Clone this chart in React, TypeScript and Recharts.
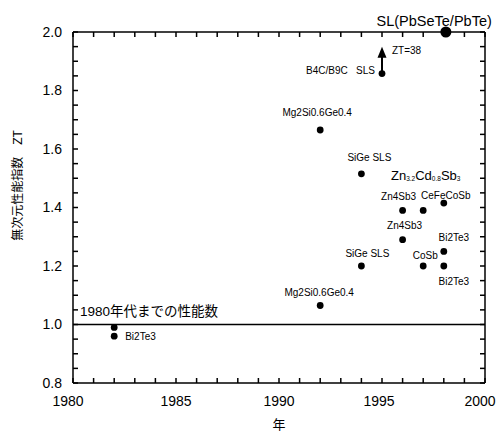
import { ReferenceLine, Scatter, ScatterChart, XAxis, YAxis } from 'recharts';

const FONT = '"Liberation Sans", Arial, "Noto Sans CJK JP", sans-serif';

// reported materials: year, ZT, label
const years = [1982, 1982, 1992, 1994, 1996, 1997, 1998, 1998, 1996, 1997, 1998, 1994, 1992, 1995];
const ztValues = [0.99, 0.96, 1.065, 1.2, 1.29, 1.2, 1.2, 1.25, 1.39, 1.39, 1.415, 1.515, 1.665, 1.858];
const names = [
  '',
  'Bi2Te3',
  'Mg2Si0.6Ge0.4',
  'SiGe SLS',
  'Zn4Sb3',
  'CoSb',
  'Bi2Te3',
  'Bi2Te3',
  'Zn4Sb3',
  'Zn_{3.2}Cd_{0.8}Sb_{3}',
  'CeFeCoSb',
  'SiGe SLS',
  'Mg2Si0.6Ge0.4',
  'B4C/B9C\u00a0\u00a0\u00a0SLS'
];

// label offset from its dot: [dx, dy, anchor, fontSize]
const labelSpots: [number, number, string, number][] = [
  [0, 0, 'middle', 10],
  [11, 0, 'start', 10],
  [-1, -13, 'middle', 10],
  [6, -13, 'middle', 10],
  [2, -14, 'middle', 10],
  [2, -11, 'middle', 10],
  [10, 15, 'middle', 10],
  [10, -14, 'middle', 10],
  [-4, -14, 'middle', 10],
  [2.5, -35, 'middle', 13],
  [2, -8, 'middle', 10],
  [8, -16, 'middle', 10],
  [-3, -17, 'middle', 10],
  [-7, -3, 'end', 10]
];

const recordYear = 1998.1;
const recordZT = 2.0;
const recordName = 'SL(PbSeTe/PbTe)';

const arrowFrom = { year: 1995, zt: 1.858 };
const arrowTo = { year: 1995, zt: 1.95 };
const arrowText = 'ZT=38';

const baselineZT = 1.0;
const baselineText = '1980年代までの性能数';

const X_MIN = 1980;
const X_MAX = 2000;
const Y_MIN = 0.8;
const Y_MAX = 2.0;
const xMajorTicks = [1980, 1985, 1990, 1995, 2000];
const yMajorTicks = [0.8, 1.0, 1.2, 1.4, 1.6, 1.8, 2.0];
const xMinorTicks = [
  1980, 1981, 1982, 1983, 1984, 1985, 1986, 1987, 1988, 1989, 1990, 1991, 1992, 1993, 1994, 1995, 1996,
  1997, 1998, 1999, 2000
];
const yMinorTicks = [
  0.8, 0.85, 0.9, 0.95, 1.0, 1.05, 1.1, 1.15, 1.2, 1.25, 1.3, 1.35, 1.4, 1.45, 1.5, 1.55, 1.6, 1.65, 1.7,
  1.75, 1.8, 1.85, 1.9, 1.95, 2.0
];
// the year labels sit a little off their ticks in the original
const xTickNudge: Record<number, number> = { 1980: -5, 1995: -3, 2000: -5 };

const points = years.map((year, i) => ({ year, zt: ztValues[i], name: names[i], idx: i }));
const record = [{ year: recordYear, zt: recordZT, name: recordName }];

// tick marks placed on the frame, drawn through the chart's scales
const tickMarks = [
  ...xMinorTicks.map((year) => ({ year, zt: Y_MIN, side: 'b' })),
  ...xMinorTicks.map((year) => ({ year, zt: Y_MAX, side: 't' })),
  ...yMinorTicks.map((zt) => ({ year: X_MIN, zt, side: 'l' })),
  ...yMinorTicks.map((zt) => ({ year: X_MAX, zt, side: 'r' }))
];

const TICK_LEN = 5;

function RichText({ text, x, y, anchor, size }: any) {
  const parts = text.split(/_\{([^}]*)\}/);
  if (parts.length === 1) {
    return (
      <text x={x} y={y} textAnchor={anchor} dominantBaseline='central' fontSize={size} fontFamily={FONT} fill='#000'>
        {text}
      </text>
    );
  }
  const sub = size / 2;
  return (
    <text x={x} y={y} textAnchor={anchor} dominantBaseline='central' fontSize={size} fontFamily={FONT} fill='#000'>
      {parts.map((p: string, i: number) =>
        i % 2 === 1 ? (
          <tspan key={i} fontSize={sub} dy={3}>
            {p}
          </tspan>
        ) : (
          <tspan key={i} dy={i === 0 ? 0 : -3}>
            {p}
          </tspan>
        )
      )}
    </text>
  );
}

function PointMark(props: any) {
  const { cx, cy, payload } = props;
  const [dx, dy, anchor, size] = labelSpots[payload.idx];
  return (
    <g>
      <circle cx={cx} cy={cy} r={3.4} fill='#000' />
      {payload.name ? <RichText text={payload.name} x={cx + dx} y={cy + dy} anchor={anchor} size={size} /> : null}
    </g>
  );
}

function RecordMark(props: any) {
  const { cx, cy, payload } = props;
  return (
    <g>
      <circle cx={cx} cy={cy} r={5.5} fill='#000' />
      <RichText text={payload.name} x={cx - 11.7} y={cy - 11} anchor='middle' size={14.5} />
    </g>
  );
}

function TickMark(props: any) {
  const { cx, cy, payload } = props;
  const side = payload && payload.side;
  let ex = cx;
  let ey = cy;
  if (side === 'b') ey = cy - TICK_LEN;
  else if (side === 't') ey = cy + TICK_LEN;
  else if (side === 'l') ex = cx + TICK_LEN;
  else ex = cx - TICK_LEN;
  return <path d={`M${cx},${cy}L${ex},${ey}`} stroke='#000' strokeWidth={1.5} fill='none' />;
}

function Arrow(props: any) {
  const { x1, y1, y2 } = props;
  const top = Math.min(y1, y2);
  const bottom = Math.max(y1, y2);
  const x = x1;
  return (
    <g>
      <line x1={x} y1={bottom} x2={x} y2={top + 8} stroke='#000' strokeWidth={2} />
      <polygon points={`${x},${top} ${x - 4.5},${top + 11} ${x + 4.5},${top + 11}`} fill='#000' />
      <text x={x + 10} y={top + 4} dominantBaseline='central' fontSize={10} fontFamily={FONT} fill='#000'>
        {arrowText}
      </text>
    </g>
  );
}

function YearTick({ x, y, payload }: any) {
  return (
    <text
      x={x + (xTickNudge[payload.value] ?? 0)}
      y={y}
      dy='0.71em'
      textAnchor='middle'
      fontSize={14}
      fontFamily={FONT}
      fill='#000'
    >
      {payload.value}
    </text>
  );
}

const axisStroke = { stroke: '#000', strokeWidth: 1.5 };
const tickFont = { fontSize: 14, fill: '#000', fontFamily: FONT };

export default function App() {
  return (
    <div style={{ position: 'absolute', left: 0, top: 0, width: 498, height: 432, background: '#fff' }}>
      <ScatterChart width={498} height={432} margin={{ top: 32, right: 13, bottom: 0, left: 0 }}>
        <XAxis
          dataKey='year'
          type='number'
          domain={[X_MIN, X_MAX]}
          ticks={xMajorTicks}
          interval={0}
          height={49}
          tickLine={false}
          axisLine={axisStroke}
          tick={<YearTick />}
          tickMargin={7}
          label={{
            content: ({ viewBox }: any) => (
              <text
                x={viewBox.x + viewBox.width / 2}
                y={424}
                textAnchor='middle'
                dominantBaseline='central'
                fontSize={13}
                fontFamily={FONT}
                fill='#000'
              >
                年
              </text>
            )
          }}
        />
        <YAxis
          dataKey='zt'
          type='number'
          domain={[Y_MIN, Y_MAX]}
          ticks={yMajorTicks}
          interval={0}
          width={73}
          tickLine={false}
          axisLine={axisStroke}
          tick={tickFont}
          tickMargin={5}
          tickFormatter={(v: number) => v.toFixed(1)}
          label={{
            content: ({ viewBox }: any) => {
              const cx = 18;
              const cy = viewBox.y + viewBox.height / 2 - 22;
              return (
                <text
                  x={cx}
                  y={cy}
                  transform={`rotate(-90, ${cx}, ${cy})`}
                  textAnchor='middle'
                  dominantBaseline='central'
                  fontSize={12}
                  fontFamily={FONT}
                  fill='#000'
                >
                  無次元性能指数　ZT
                </text>
              );
            }
          }}
        />
        {/* top and right sides of the frame */}
        <ReferenceLine y={Y_MAX} stroke='#000' strokeWidth={1.5} />
        <ReferenceLine x={X_MAX} stroke='#000' strokeWidth={1.5} />
        <ReferenceLine
          y={baselineZT}
          stroke='#000'
          strokeWidth={1.5}
          label={{
            content: ({ viewBox }: any) => (
              <text
                x={viewBox.x + 7}
                y={viewBox.y - 13.4}
                dominantBaseline='central'
                fontSize={13.5}
                fontFamily={FONT}
                fill='#000'
              >
                {baselineText}
              </text>
            )
          }}
        />
        <ReferenceLine
          segment={[
            { x: arrowFrom.year, y: arrowFrom.zt },
            { x: arrowTo.year, y: arrowTo.zt }
          ]}
          shape={Arrow}
        />
        <Scatter data={tickMarks} dataKey='zt' shape={TickMark} isAnimationActive={false} />
        <Scatter data={points} dataKey='zt' shape={PointMark} isAnimationActive={false} />
        <Scatter data={record} dataKey='zt' shape={RecordMark} isAnimationActive={false} />
      </ScatterChart>
    </div>
  );
}
